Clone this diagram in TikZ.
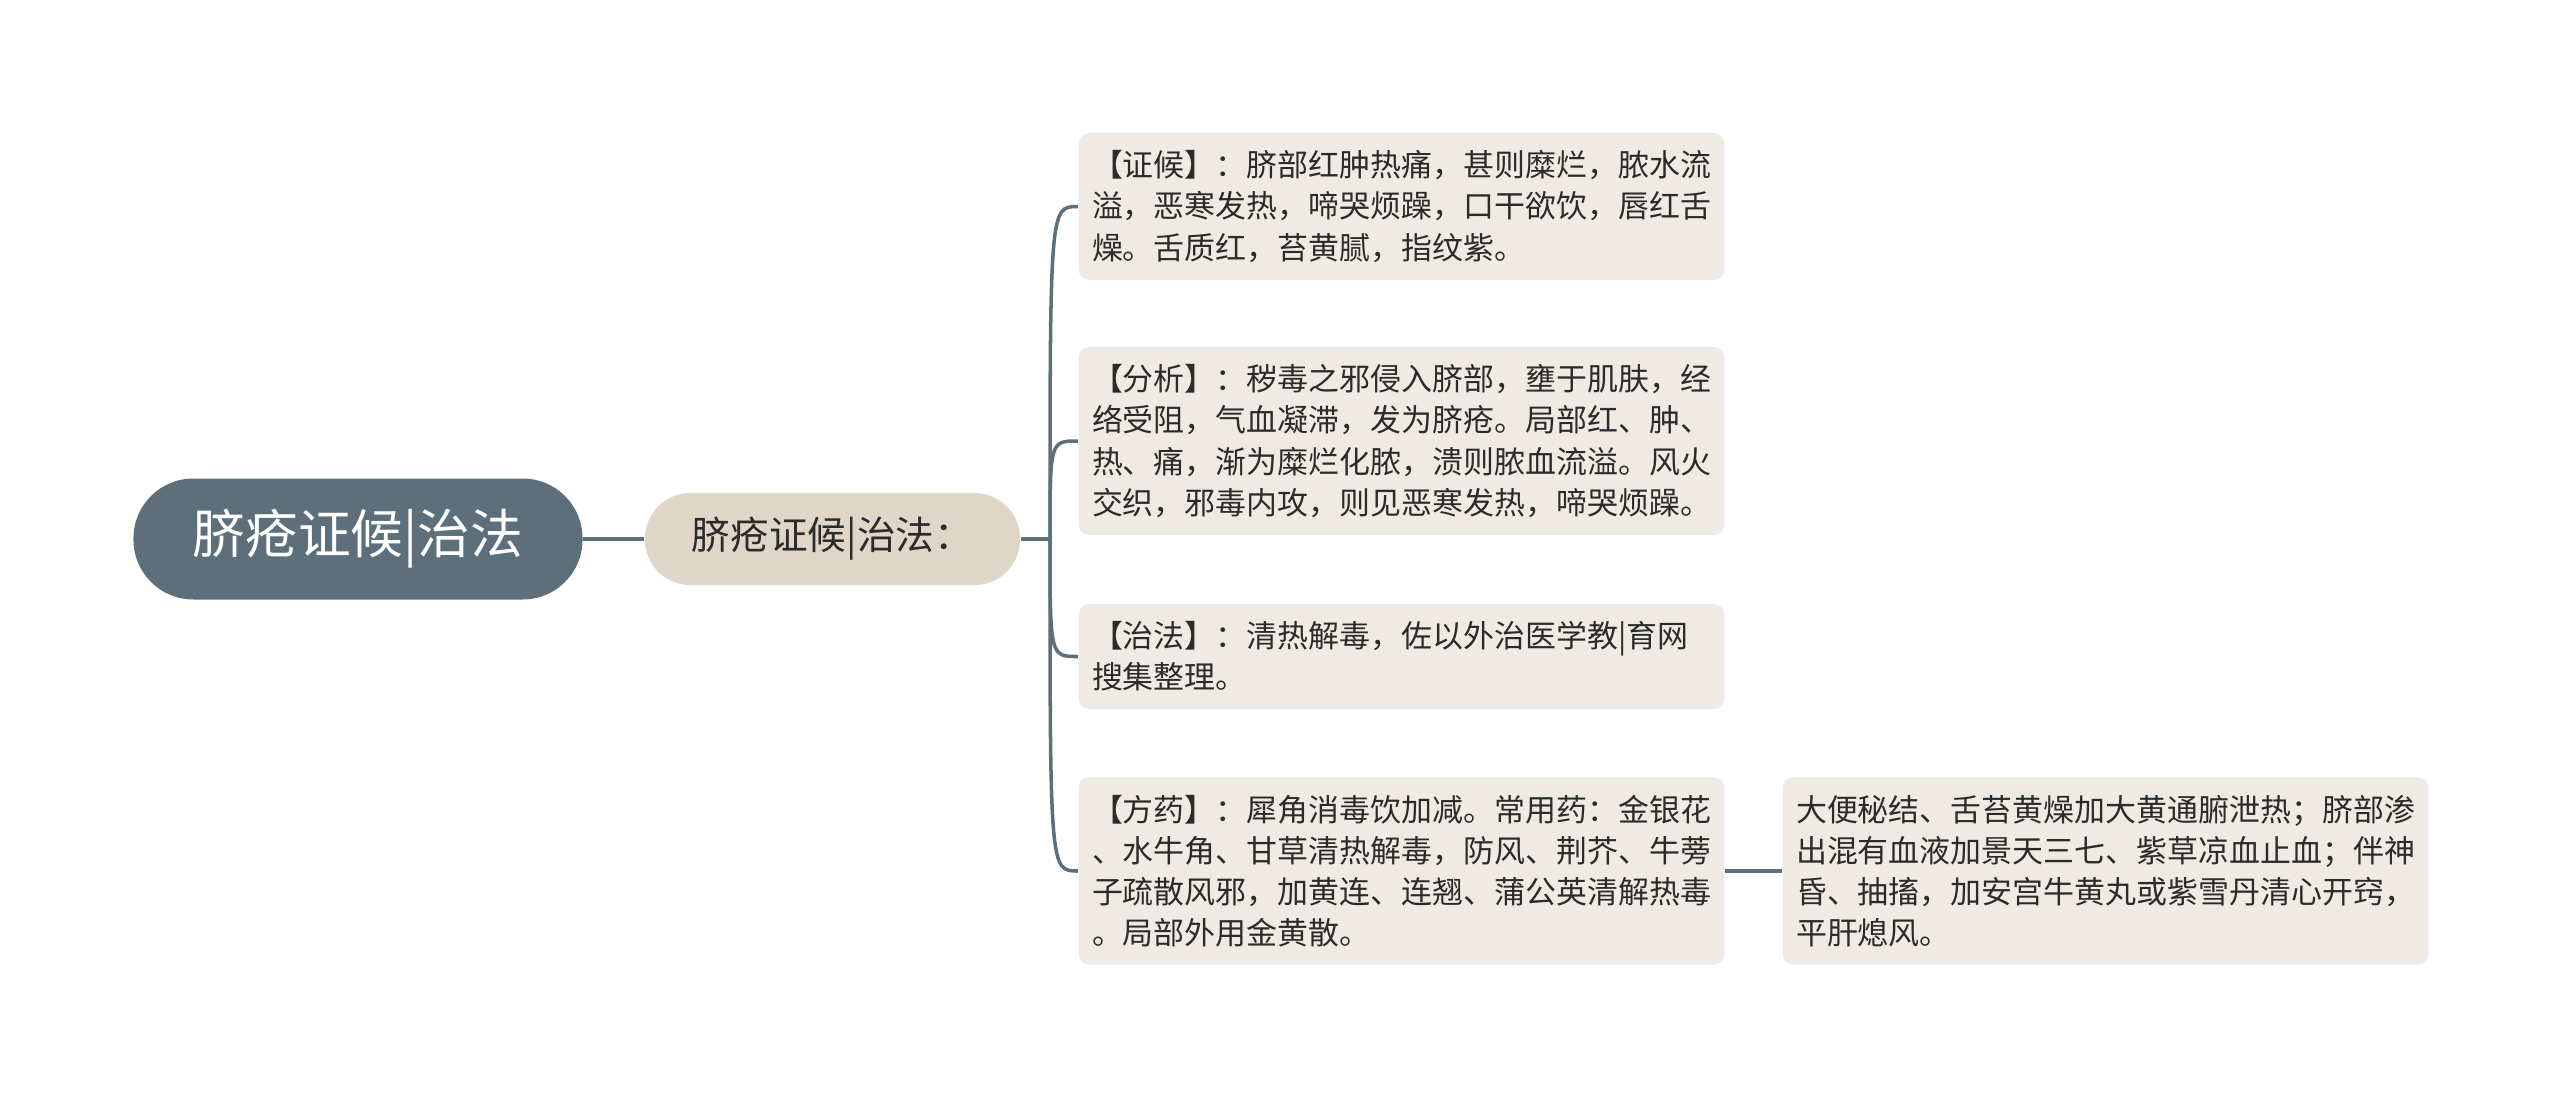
\documentclass[tikz,border=0pt]{standalone}
\usepackage{fontspec}
\newfontfamily\cjk{Noto Sans CJK SC}
\definecolor{rootc}{HTML}{5C6F7B}
\definecolor{subc}{HTML}{DFD6C7}
\definecolor{leafc}{HTML}{EFEBE4}
\definecolor{textc}{HTML}{2B2B2B}

\begin{document}
\begin{tikzpicture}[x=0.01cm,y=-0.01cm,
    link/.style={draw=rootc,line width=1pt},
    rootbox/.style={fill=rootc,text=white,rounded corners=17pt,minimum width=127.7pt,minimum height=34.4pt,font=\cjk\fontsize{15pt}{18pt}\selectfont},
    subbox/.style={fill=subc,text=textc,rounded corners=13pt,minimum width=106.7pt,minimum height=26.2pt,font=\cjk\fontsize{11pt}{13pt}\selectfont},
    leaf/.style={fill=leafc,text=textc,rounded corners=3pt,text width=176pt,align=left,inner xsep=3.8pt,inner ysep=5pt,font=\cjk\fontsize{8.8pt}{11.7pt}\selectfont}]
    \useasboundingbox (0,0) rectangle (2560,1099);
    \node[rootbox] (root) at (358,539) {脐疮证候|治法};
    \node[subbox] (sub) at (832.5,539) {脐疮证候|治法：};
    \coordinate (jt) at (1050,539);
    \node[leaf] (zh) at (1401.5,206.5) {【证候】：脐部红肿热痛，甚则糜烂，脓水流\\溢，恶寒发热，啼哭烦躁，口干欲饮，唇红舌\\燥。舌质红，苔黄腻，指纹紫。};
    \node[leaf] (fx) at (1401.5,441) {【分析】：秽毒之邪侵入脐部，壅于肌肤，经\\络受阻，气血凝滞，发为脐疮。局部红、肿、\\热、痛，渐为糜烂化脓，溃则脓血流溢。风火\\交织，邪毒内攻，则见恶寒发热，啼哭烦躁。};
    \node[leaf] (zf) at (1401.5,656.5) {【治法】：清热解毒，佐以外治医学教|育网\\搜集整理。};
    \node[leaf] (fy) at (1401.5,871) {【方药】：犀角消毒饮加减。常用药：金银花\\、水牛角、甘草清热解毒，防风、荆芥、牛蒡\\子疏散风邪，加黄连、连翘、蒲公英清解热毒\\。局部外用金黄散。};
    \node[leaf] (jj) at (2105.5,871) {大便秘结、舌苔黄燥加大黄通腑泄热；脐部渗\\出混有血液加景天三七、紫草凉血止血；伴神\\昏、抽搐，加安宫牛黄丸或紫雪丹清心开窍，\\平肝熄风。};
    \draw[link] (root) -- (sub);
    \draw[link] (sub.east) -- (jt);
    \foreach \n in {zh,fx,zf,fy}
        \draw[link] (jt) .. controls (jt |- \n.west) .. (\n.west);
    \draw[link] (fy) -- (jj);
\end{tikzpicture}
\end{document}
